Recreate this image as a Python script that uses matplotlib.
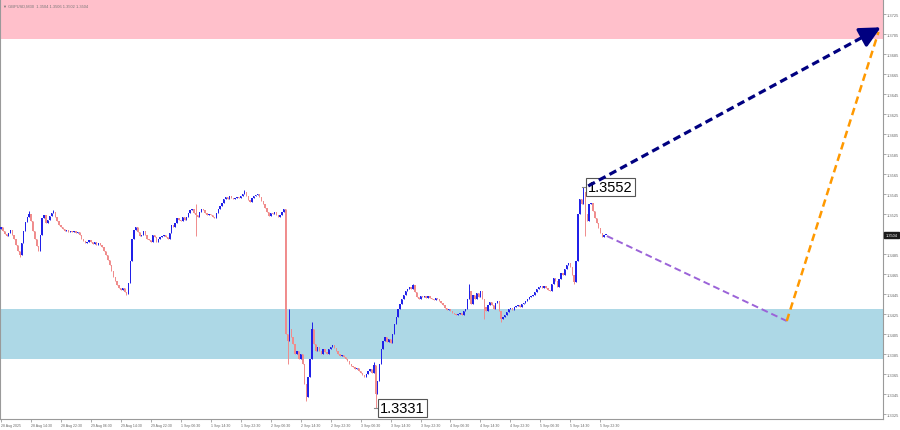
import matplotlib
matplotlib.use("Agg")
import matplotlib.pyplot as plt
import numpy as np

# ---------------- data ----------------
symbol_title = "\u25bc GBPUSD,M30  1.3504 1.3506 1.3502 1.3504"
first_open = 1.3510
closes = [
    1.3512, 1.3508, 1.3505, 1.3503, 1.3506, 1.3509, 1.3504, 1.3500, 1.3494, 1.3488,
    1.3484, 1.3496, 1.3508, 1.3517, 1.3522, 1.3525, 1.3518, 1.3508, 1.3500, 1.3493,
    1.3488, 1.3504, 1.3521, 1.3524, 1.3516, 1.3519, 1.3523, 1.3526, 1.3527, 1.3522,
    1.3518, 1.3514, 1.3512, 1.3510, 1.3508, 1.3509, 1.3507, 1.3508, 1.3507, 1.3508,
    1.3506, 1.3507, 1.3504, 1.3500, 1.3498, 1.3496, 1.3497, 1.3499, 1.3497, 1.3495,
    1.3497, 1.3494, 1.3496, 1.3494, 1.3492, 1.3488, 1.3484, 1.3479, 1.3474, 1.3468,
    1.3462, 1.3458, 1.3454, 1.3451, 1.3449, 1.3451, 1.3447, 1.3445, 1.3456, 1.3478,
    1.3500, 1.3509, 1.3512, 1.3507, 1.3503, 1.3504, 1.3508, 1.3504, 1.3500, 1.3499,
    1.3497, 1.3504, 1.3502, 1.3497, 1.3500, 1.3502, 1.3503, 1.3504, 1.3502, 1.3500,
    1.3506, 1.3514, 1.3512, 1.3516, 1.3521, 1.3519, 1.3518, 1.3522, 1.3519, 1.3522,
    1.3526, 1.3529, 1.3530, 1.3526, 1.3524, 1.3522, 1.3527, 1.3530, 1.3529, 1.3526,
    1.3524, 1.3525, 1.3524, 1.3522, 1.3521, 1.3526, 1.3530, 1.3533, 1.3536, 1.3540,
    1.3542, 1.3540, 1.3543, 1.3541, 1.3540, 1.3541, 1.3542, 1.3541, 1.3543, 1.3545,
    1.3547, 1.3543, 1.3539, 1.3537, 1.3541, 1.3543, 1.3544, 1.3545, 1.3542, 1.3538,
    1.3535, 1.3531, 1.3527, 1.3523, 1.3526, 1.3525, 1.3527, 1.3524, 1.3522, 1.3524,
    1.3527, 1.3530, 1.3405, 1.3398, 1.3410, 1.3402, 1.3395, 1.3385, 1.3388, 1.3380,
    1.3385, 1.3375, 1.3355, 1.3342, 1.3362, 1.3380, 1.3410, 1.3395, 1.3388, 1.3392,
    1.3388, 1.3385, 1.3390, 1.3387, 1.3385, 1.3390, 1.3392, 1.3394, 1.3391, 1.3388,
    1.3385, 1.3383, 1.3384, 1.3382, 1.3380, 1.3378, 1.3375, 1.3373, 1.3372, 1.3370,
    1.3371, 1.3368, 1.3366, 1.3364, 1.3362, 1.3365, 1.3368, 1.3370, 1.3366, 1.3374,
    1.3345, 1.3358, 1.3375, 1.3390, 1.3398, 1.3402, 1.3397, 1.3400, 1.3396, 1.3405,
    1.3415, 1.3422, 1.3430, 1.3435, 1.3440, 1.3444, 1.3448, 1.3450, 1.3452, 1.3450,
    1.3454, 1.3447, 1.3442, 1.3440, 1.3443, 1.3442, 1.3443, 1.3441, 1.3443, 1.3441,
    1.3440, 1.3439, 1.3441, 1.3440, 1.3438, 1.3436, 1.3434, 1.3431, 1.3429, 1.3430,
    1.3428, 1.3426, 1.3425, 1.3424, 1.3425, 1.3426, 1.3424, 1.3428, 1.3430, 1.3440,
    1.3448, 1.3435, 1.3444, 1.3440, 1.3446, 1.3442, 1.3448, 1.3440, 1.3432, 1.3428,
    1.3434, 1.3437, 1.3434, 1.3430, 1.3436, 1.3438, 1.3428, 1.3420, 1.3422, 1.3424,
    1.3427, 1.3430, 1.3431, 1.3429, 1.3432, 1.3433, 1.3434, 1.3432, 1.3435, 1.3436,
    1.3438, 1.3440, 1.3442, 1.3443, 1.3444, 1.3447, 1.3450, 1.3452, 1.3453, 1.3451,
    1.3453, 1.3451, 1.3449, 1.3448, 1.3455, 1.3461, 1.3458, 1.3452, 1.3460, 1.3466,
    1.3464, 1.3470, 1.3474, 1.3476, 1.3472, 1.3464, 1.3457, 1.3478, 1.3525, 1.3540,
    1.3535, 1.3547, 1.3525, 1.3518, 1.3535, 1.3536, 1.3528, 1.3521, 1.3516, 1.3511,
    1.3506, 1.3502, 1.3504, 1.3504,
]
high_wicks = {15: 1.3528, 28: 1.3529, 104: 1.3535, 130: 1.3549, 154: 1.3430,
              166: 1.3417, 199: 1.3377, 220: 1.3455, 250: 1.3455, 311: 1.3552}
low_wicks = {10: 1.3482, 67: 1.3444, 104: 1.3503, 153: 1.3375, 163: 1.3338,
             200: 1.3331, 258: 1.3420, 267: 1.3417, 306: 1.3455, 312: 1.3503}

tick_labels = ["28 Aug 2025", "28 Aug 14:30", "28 Aug 22:30", "29 Aug 06:30",
               "29 Aug 14:30", "29 Aug 22:30", "1 Sep 06:30", "1 Sep 14:30",
               "1 Sep 22:30", "2 Sep 06:30", "2 Sep 14:30", "2 Sep 22:30",
               "3 Sep 06:30", "3 Sep 14:30", "3 Sep 22:30", "4 Sep 06:30",
               "4 Sep 14:30", "4 Sep 22:30", "5 Sep 06:30", "5 Sep 14:30",
               "5 Sep 22:30"]
bars_per_label = 16

sell_zone = (1.3700, 1.3745)
buy_zone = (1.3380, 1.3430)

high_label = (311, 1.3552)
low_label = (200, 1.3331)

# forecast paths (bar index, price)
wave_up = [(313.5, 1.3553), (471.0, 1.3713)]
wave_down = [(323.5, 1.3503), (419.5, 1.3418)]
wave_final = [(419.5, 1.3418), (468.5, 1.3707)]

y_ticks = [1.3325 + 0.002 * k for k in range(21)]
last_price = 1.3504

# ---------------- figure ----------------
W, H = 900, 431
fig = plt.figure(figsize=(W / 100, H / 100), dpi=100)
ax = fig.add_axes([0, 11 / H, 883 / W, 420 / H])

n = len(closes)
idx = np.arange(n)
opens = [first_open] + closes[:-1]
highs = [max(high_wicks.get(i, 0), opens[i], closes[i]) for i in range(n)]
lows = [min(low_wicks.get(i, 9), opens[i], closes[i]) for i in range(n)]

bull_c = "#2020e8"
bear_c = "#f08c8c"
cols = [bull_c if closes[i] >= opens[i] else bear_c for i in range(n)]

ax.axhspan(sell_zone[0], sell_zone[1], color="#ffc0cb", zorder=0, lw=0)
ax.axhspan(buy_zone[0], buy_zone[1], color="#add8e6", zorder=0, lw=0)

ax.vlines(idx, lows, highs, colors=cols, lw=0.7, zorder=2)
bottoms = [min(opens[i], closes[i]) for i in range(n)]
heights = [max(abs(closes[i] - opens[i]), 0.00008) for i in range(n)]
ax.bar(idx, heights, bottom=bottoms, width=0.7, color=cols, lw=0, zorder=3)

# price labels
for (bi, p) in (high_label, low_label):
    ax.plot([bi - 1, bi + 1.5], [p, p], color="#888888", lw=0.8, zorder=6)
    ax.text(bi + 2.3, p, f"{p:.4f}", fontsize=10.5, family="Liberation Sans",
            va="center", ha="left", color="black", zorder=7,
            bbox=dict(boxstyle="square,pad=0.15", fc="white", ec="#555555", lw=0.8))

# forecast lines (drawn over the labels)
(x0, y0), (x1, y1) = wave_up
ax.plot([x0, x1 - 4], [y0, y1 - (y1 - y0) * 4 / (x1 - x0)], color="#000080",
        lw=2.3, dashes=(2.4, 1.4), zorder=8)
ax.annotate("", xy=(x1, y1), xytext=(x1 - 9, y1 - (y1 - y0) * 9 / (x1 - x0)),
            arrowprops=dict(arrowstyle="-|>,head_length=0.9,head_width=0.45",
                            color="#000080", lw=2.3, mutation_scale=14),
            zorder=9, annotation_clip=False)
(x0, y0), (x1, y1) = wave_down
ax.plot([x0, x1], [y0, y1], color="#9b63d8", lw=1.4, dashes=(3.5, 2), zorder=8)
(x0, y0), (x1, y1) = wave_final
ax.plot([x0, x1], [y0, y1], color="#ff9900", lw=1.8, dashes=(3, 1.8), zorder=8)

# axes styling
ax.set_xlim(-0.5, 470.9)
ax.set_ylim(1.3320, 1.3740)
ax.set_xticks([k * bars_per_label for k in range(len(tick_labels))])
ax.set_xticklabels(tick_labels, fontsize=2.5, color="#666666", ha="left",
                   family="Liberation Sans")
ax.yaxis.tick_right()
ax.set_yticks(y_ticks)
ax.set_yticklabels([f"{v:.4f}" for v in y_ticks], fontsize=2.9, color="#666666",
                   family="Liberation Sans")
ax.tick_params(axis="both", length=1.8, width=0.5, color="#888888", pad=1.0)
for s in ["left", "bottom", "right"]:
    ax.spines[s].set_color("#9a9a9a")
    ax.spines[s].set_linewidth(0.8)
ax.spines["top"].set_visible(False)

ax.text(0.003, 0.99, symbol_title, transform=ax.transAxes, fontsize=2.9,
        color="#777777", va="top", ha="left", family=["Liberation Sans", "DejaVu Sans"])

# current price box
ax.text(1.003, last_price, f"{last_price:.4f}", transform=ax.get_yaxis_transform(),
        fontsize=2.8, color="white", va="center", ha="left", zorder=10,
        family="Liberation Sans",
        bbox=dict(boxstyle="square,pad=0.3", fc="#1a1a1a", ec="#1a1a1a"),
        clip_on=False)

fig.savefig("out.png", dpi=100)
